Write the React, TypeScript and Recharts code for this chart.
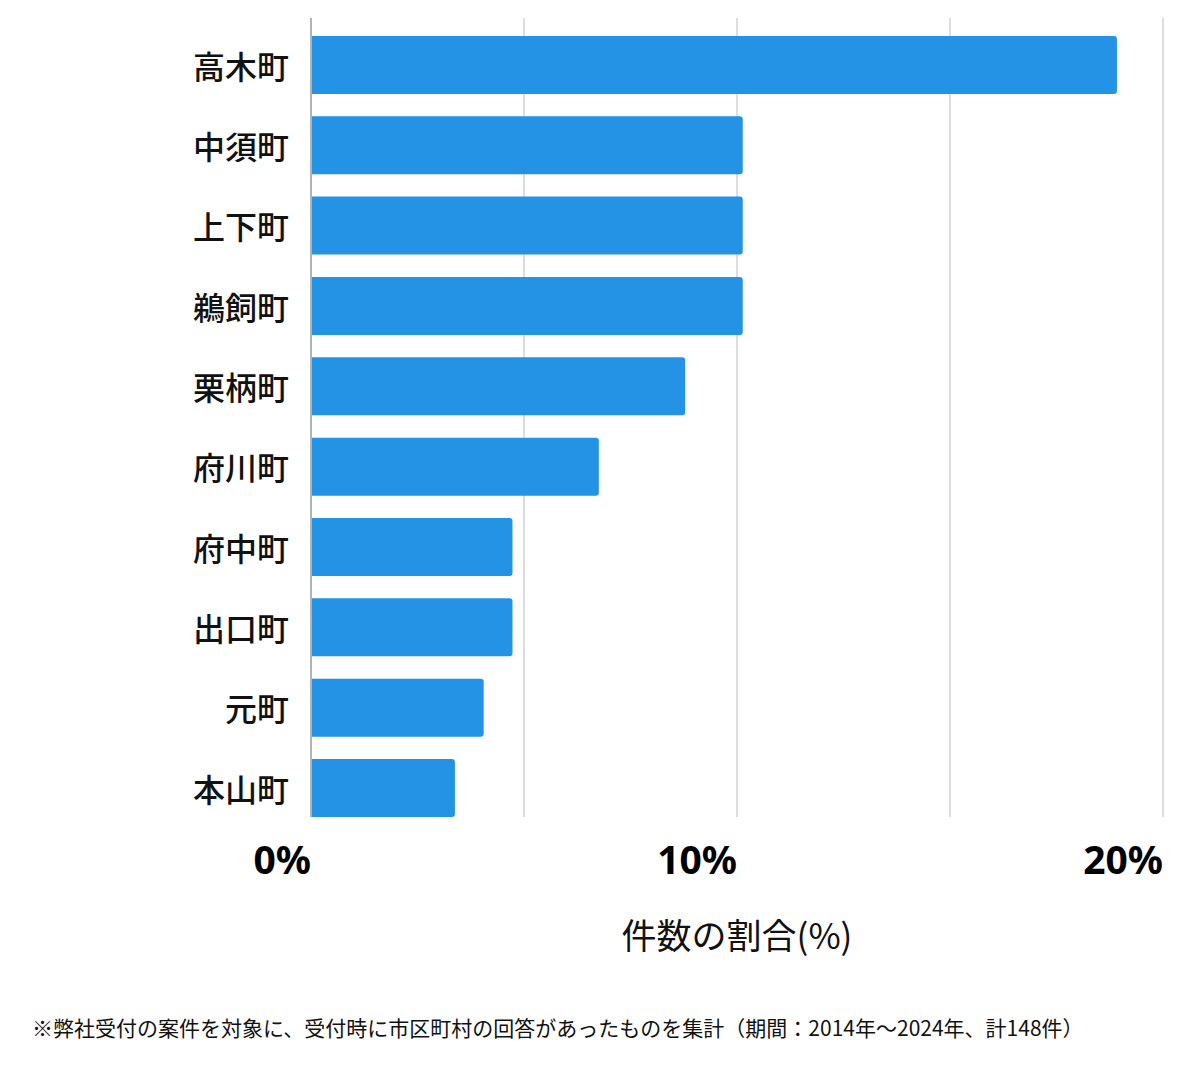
import { BarChart, Bar, XAxis, YAxis, CartesianGrid } from 'recharts'

// 町名ごとの件数（計148件）
const towns = ['高木町', '中須町', '上下町', '鵜飼町', '栗柄町', '府川町', '府中町', '出口町', '元町', '本山町']
const counts = [28, 15, 15, 15, 13, 10, 7, 7, 6, 5]
const total = 148
const xTicks = [0, 5, 10, 15, 20]
const xLabels: Record<number, string> = { 0: '0%', 10: '10%', 20: '20%' }

const data = towns.map((name, i) => ({
  name,
  share: (counts[i] / total) * 100,
}))

const jp = '"Noto Sans CJK JP", "Noto Sans", sans-serif'

function TownTick({ x, y, payload }: any) {
  return (
    <text
      x={x - 14}
      y={y}
      textAnchor="end"
      dominantBaseline="central"
      fontSize={32}
      fontWeight={500}
      fontFamily={jp}
      fill="#111"
    >
      {payload.value}
    </text>
  )
}

function PercentTick({ x, y, payload }: any) {
  const label = xLabels[payload.value]
  if (!label) return null
  return (
    <text
      x={x}
      y={y + 49}
      textAnchor="end"
      fontSize={39}
      fontWeight={700}
      fontFamily='"Noto Sans", sans-serif'
      fill="#000"
    >
      {label}
    </text>
  )
}

export default function App() {
  return (
    <div style={{ position: 'absolute', left: 0, top: 0, width: 1200, height: 1069, background: '#fff', fontFamily: jp }}>
      <BarChart
        width={1200}
        height={897}
        data={data}
        layout="vertical"
        margin={{ top: 18, right: 37, bottom: 0, left: 0 }}
        barCategoryGap="14.2%"
      >
        <CartesianGrid horizontal={false} stroke="#dddddd" strokeWidth={2} />
        <XAxis
          type="number"
          domain={[0, 20]}
          ticks={xTicks}
          axisLine={false}
          tickLine={false}
          height={80}
          tick={<PercentTick />}
          interval={0}
        />
        <YAxis
          type="category"
          dataKey="name"
          width={311}
          padding={{ top: 6.5, bottom: -11 }}
          axisLine={{ stroke: '#b3b3b3', strokeWidth: 2 }}
          tickLine={false}
          tick={<TownTick />}
          interval={0}
        />
        <Bar dataKey="share" fill="#2593e5" radius={[0, 3, 3, 0]} isAnimationActive={false} />
      </BarChart>
      <div
        style={{
          position: 'absolute',
          left: 537,
          width: 400,
          top: 911,
          textAlign: 'center',
          fontSize: 35,
          color: '#111',
          lineHeight: '46px',
        }}
      >
        件数の割合(%)
      </div>
      <div
        style={{
          position: 'absolute',
          left: 32,
          top: 1013,
          fontSize: 21,
          color: '#111',
          whiteSpace: 'nowrap',
          lineHeight: '28px',
        }}
      >
        ※弊社受付の案件を対象に、受付時に市区町村の回答があったものを集計（期間：2014年～2024年、計148件）
      </div>
    </div>
  )
}
